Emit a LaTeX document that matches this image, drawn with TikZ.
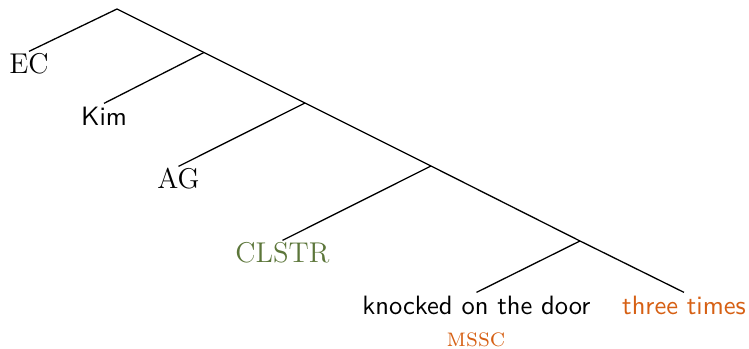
\documentclass[tikz,border=0pt]{standalone}
\definecolor{clstrgreen}{RGB}{92,118,58}
\definecolor{msorange}{RGB}{214,96,20}
\tikzset{
  leaf/.style={anchor=base, inner sep=1.5pt, text height=7pt, text depth=2pt,
    font=\fontsize{11}{13}\selectfont},
  sfleaf/.style={leaf, font=\fontsize{10.2}{12}\selectfont\sffamily},
  branch/.style={line width=0.5pt}
}
\begin{document}
\begin{tikzpicture}[x=0.3846pt, y=-0.3846pt]
  \useasboundingbox (0,0) rectangle (749,349);
  % branching points along the right spine
  \coordinate (r)  at (117,9);
  \coordinate (n1) at (204,52.5);
  \coordinate (n2) at (305,103);
  \coordinate (n3) at (431,166);
  \coordinate (n4) at (580,241);
  % leaves
  \node[leaf]   (ec)   at (29,74)    {EC};
  \node[sfleaf] (kim)  at (104,126)  {Kim};
  \node[leaf]   (ag)   at (178.5,189) {AG};
  \node[leaf, text=clstrgreen] (clstr) at (282.5,263) {CLSTR};
  \node[sfleaf] (knock) at (476.5,315) {knocked on the door};
  \node[sfleaf, text=msorange] (times) at (684,315) {three times};
  \node[anchor=base, inner sep=0pt, text=msorange] (mssc) at (476,347) {\textsc{mssc}};
  % branches
  \draw[branch] (ec.north) -- (r) -- (n1) -- (n2) -- (n3) -- (n4) -- (times.north);
  \draw[branch] (n1) -- (kim.north);
  \draw[branch] (n2) -- (ag.north);
  \draw[branch] (n3) -- (clstr.north);
  \draw[branch] (n4) -- (knock.north);
\end{tikzpicture}
\end{document}
